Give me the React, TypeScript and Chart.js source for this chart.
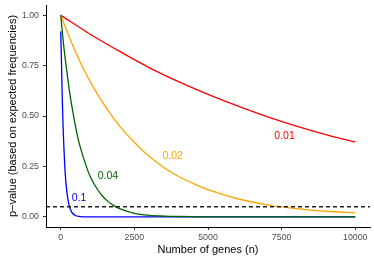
import React, { useEffect, useRef } from 'react';
import { Chart, registerables } from 'chart.js';

Chart.register(...registerables);

// Data
const genesRed = [0, 1000, 2000, 3000, 4000, 5000, 6000, 7000, 8000, 9000, 10000];
const pRed = [1.0, 0.905, 0.82, 0.74, 0.67, 0.607, 0.55, 0.497, 0.45, 0.408, 0.37];

const genesOrange = [0, 250, 500, 750, 1000, 1500, 2000, 2500, 3000, 3500, 4000, 4500, 5000, 6000, 7000, 8000, 9000, 10000];
const pOrange = [1.0, 0.905, 0.82, 0.74, 0.67, 0.55, 0.45, 0.37, 0.3, 0.245, 0.2, 0.165, 0.135, 0.09, 0.06, 0.041, 0.028, 0.02];

const genesGreen = [0, 100, 200, 300, 400, 500, 600, 800, 1000, 1200, 1400, 1600, 1800, 2000, 2500, 3000, 3500, 4000, 5000, 6000, 8000, 10000];
const pGreen = [1.0, 0.85, 0.73, 0.62, 0.53, 0.45, 0.38, 0.28, 0.2, 0.147, 0.106, 0.077, 0.056, 0.041, 0.018, 0.008, 0.004, 0.002, 0.0003, 0, 0, 0];

const genesBlue = [0, 25, 50, 75, 100, 125, 150, 200, 250, 300, 350, 400, 500, 600, 800, 1000, 1500, 2500, 5000, 7500, 10000];
const pBlue = [0.92, 0.77, 0.6, 0.47, 0.37, 0.29, 0.22, 0.135, 0.082, 0.05, 0.03, 0.018, 0.007, 0.0025, 0.0003, 0, 0, 0, 0, 0, 0];

const xTicks = [0, 2500, 5000, 7500, 10000];
const yTicks = [0, 0.25, 0.5, 0.75, 1];
const threshold = 0.05;

const labelTexts = ['0.01', '0.02', '0.04', '0.1'];
const labelGenes = [7600, 3800, 1600, 620];
const labelP = [0.4, 0.3, 0.2, 0.093];

const RED = '#FF0000';
const ORANGE = '#FFA500';
const GREEN = '#006400';
const BLUE = '#0000FF';
const labelColors = [RED, ORANGE, GREEN, BLUE];

const FONT = '"Liberation Sans", Arial, Helvetica, sans-serif';

function toPoints(xs: number[], ys: number[]) {
  return xs.map((x, i) => ({ x, y: ys[i] }));
}

const overlayPlugin = {
  id: 'overlay',
  afterDatasetsDraw(chart: any) {
    const { ctx, chartArea, scales } = chart;
    const xs = scales.x;
    const ys = scales.y;
    ctx.save();
    const yy = ys.getPixelForValue(threshold);
    ctx.strokeStyle = '#222222';
    ctx.lineWidth = 1.4;
    ctx.setLineDash([4, 3]);
    ctx.beginPath();
    ctx.moveTo(chartArea.left, yy);
    ctx.lineTo(chartArea.right, yy);
    ctx.stroke();
    ctx.setLineDash([]);
    ctx.font = `10.5px ${FONT}`;
    ctx.textAlign = 'center';
    ctx.textBaseline = 'middle';
    labelTexts.forEach((t, i) => {
      ctx.fillStyle = labelColors[i];
      ctx.fillText(t, xs.getPixelForValue(labelGenes[i]), ys.getPixelForValue(labelP[i]));
    });
    ctx.restore();
  },
};

export default function App() {
  const ref = useRef<HTMLCanvasElement>(null);
  useEffect(() => {
    const lineDs = (data: any, color: string, order: number) => ({
      data,
      borderColor: color,
      backgroundColor: color,
      borderWidth: 1.3,
      pointRadius: 0,
      fill: false,
      cubicInterpolationMode: 'monotone' as const,
      order,
    });
    const chart = new Chart(ref.current!, {
      type: 'line',
      data: {
        datasets: [
          lineDs(toPoints(genesRed, pRed), RED, 4),
          lineDs(toPoints(genesOrange, pOrange), ORANGE, 3),
          lineDs(toPoints(genesBlue, pBlue), BLUE, 2),
          lineDs(toPoints(genesGreen, pGreen), GREEN, 1),
        ],
      },
      options: {
        responsive: false,
        animation: false,
        maintainAspectRatio: false,
        layout: { padding: { top: 5, right: 4, left: 0, bottom: 0 } },
        plugins: { legend: { display: false }, tooltip: { enabled: false } },
        font: { family: FONT },
        scales: {
          x: {
            type: 'linear',
            min: -500,
            max: 10500,
            afterBuildTicks: (s: any) => { s.ticks = xTicks.map((v) => ({ value: v })); },
            afterFit: (s: any) => { s.height = 35; },
            ticks: {
              color: '#4D4D4D',
              font: { family: FONT, size: 8.8 },
              padding: 2,
              maxRotation: 0,
              callback: (v: any) => String(v),
            },
            grid: { drawOnChartArea: false, drawTicks: true, tickLength: 3, tickColor: '#333333', tickWidth: 1 },
            border: { display: true, color: '#000000', width: 1 },
            title: {
              display: true,
              text: 'Number of genes (n)',
              color: '#000000',
              font: { family: FONT, size: 11 },
              padding: { top: 0, bottom: 5 },
            },
          },
          y: {
            type: 'linear',
            min: -0.05,
            max: 1.05,
            afterBuildTicks: (s: any) => { s.ticks = yTicks.map((v) => ({ value: v })); },
            afterFit: (s: any) => { s.width = 46; s.paddingTop = 0; s.paddingBottom = 0; },
            ticks: {
              color: '#4D4D4D',
              font: { family: FONT, size: 8.8 },
              padding: 4,
              callback: (v: any) => Number(v).toFixed(2),
            },
            grid: { drawOnChartArea: false, drawTicks: true, tickLength: 3, tickColor: '#333333', tickWidth: 1 },
            border: { display: true, color: '#000000', width: 1 },
            title: {
              display: true,
              text: 'p\u2212value (based on expected frequencies)',
              color: '#000000',
              font: { family: FONT, size: 11 },
              padding: { top: 6, bottom: 0 },
            },
          },
        },
      } as any,
      plugins: [overlayPlugin],
    });
    return () => chart.destroy();
  }, []);
  return (
    <div style={{ position: 'absolute', left: 0, top: 0, width: 374, height: 262, background: '#ffffff' }}>
      <canvas ref={ref} width={374} height={262} style={{ display: 'block' }} />
    </div>
  );
}
